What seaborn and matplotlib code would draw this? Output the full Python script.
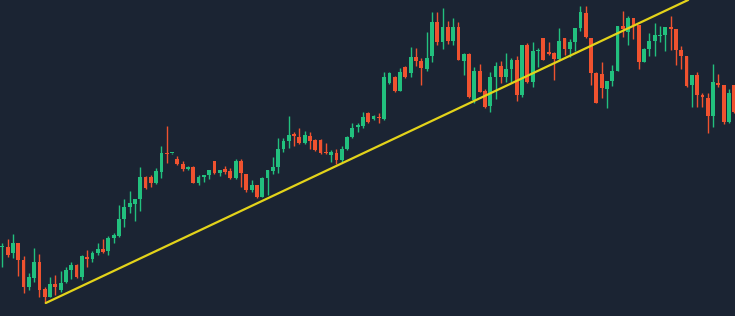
import matplotlib
matplotlib.use("Agg")
import matplotlib.pyplot as plt
import seaborn as sns
import numpy as np
import pandas as pd

# Candle values (price units)
opens = [69, 69, 63, 73, 56, 29, 38, 54, 27, 19, 32, 26, 34, 46, 51, 39, 59, 57, 63, 67,
         65, 78, 80, 97, 109, 112, 117, 139, 139, 133, 144, 163, 163, 157, 152, 147, 149, 133, 139, 141,
         155, 143, 147, 145, 138, 155, 142, 126, 131, 119, 138, 145, 149, 167, 175, 182, 179, 173, 180, 176,
         176, 164, 161, 163, 156, 167, 179, 189, 190, 203, 197, 199, 197, 233, 239, 225, 249, 243, 259, 255,
         247, 260, 294, 274, 289, 275, 289, 255, 262, 216, 245, 225, 210, 239, 250, 239, 247, 256, 221, 271,
         234, 265, 278, 264, 263, 257, 278, 267, 274, 288, 303, 278, 243, 242, 227, 235, 245, 290, 284, 298,
         291, 254, 267, 275, 280, 281, 289, 287, 266, 260, 231, 241, 221, 218, 200, 233, 231, 194, 231]
highs = [73, 77, 82, 73, 60, 43, 68, 62, 29, 39, 41, 45, 49, 54, 52, 61, 66, 65, 73, 77,
         80, 83, 111, 117, 125, 117, 149, 140, 141, 148, 170, 190, 163, 160, 155, 150, 150, 141, 141, 146,
         155, 146, 150, 148, 157, 157, 142, 136, 131, 139, 146, 159, 178, 178, 200, 184, 188, 185, 184, 177,
         177, 173, 166, 167, 170, 180, 193, 193, 204, 204, 201, 203, 244, 244, 240, 248, 250, 269, 268, 258,
         284, 304, 304, 308, 295, 298, 294, 263, 263, 249, 252, 227, 244, 254, 255, 263, 258, 260, 271, 273,
         274, 268, 278, 274, 264, 288, 278, 277, 288, 310, 310, 278, 244, 254, 235, 251, 290, 305, 300, 298,
         291, 268, 283, 293, 290, 289, 300, 287, 270, 260, 241, 244, 223, 223, 252, 242, 231, 227, 231]
lows = [49, 59, 58, 40, 23, 26, 34, 19, 13, 19, 21, 24, 33, 37, 38, 36, 49, 54, 61, 63,
        61, 73, 79, 89, 103, 95, 105, 127, 129, 132, 138, 153, 162, 151, 145, 146, 133, 131, 134, 137,
        142, 140, 142, 137, 137, 129, 124, 124, 118, 119, 121, 142, 143, 164, 168, 170, 172, 172, 167, 165,
        162, 162, 154, 152, 154, 166, 178, 184, 188, 193, 196, 193, 196, 232, 224, 225, 238, 239, 250, 231,
        245, 254, 271, 267, 272, 271, 256, 241, 218, 213, 224, 208, 204, 217, 233, 234, 234, 215, 219, 233,
        229, 249, 256, 261, 236, 256, 261, 259, 265, 285, 278, 231, 213, 218, 208, 230, 245, 279, 271, 277,
        247, 254, 260, 260, 274, 265, 266, 251, 247, 229, 209, 209, 209, 183, 189, 229, 192, 193, 203]
closes = [69, 61, 73, 56, 29, 39, 54, 26, 19, 32, 29, 33, 46, 51, 39, 60, 57, 63, 67, 64,
          78, 81, 97, 109, 113, 117, 139, 128, 133, 145, 163, 162, 163, 152, 147, 149, 133, 139, 141, 146,
          143, 146, 144, 138, 155, 143, 126, 131, 119, 138, 146, 149, 167, 175, 181, 180, 173, 181, 175, 166,
          163, 163, 164, 156, 167, 179, 188, 191, 199, 194, 200, 198, 239, 243, 225, 244, 239, 259, 255, 248,
          258, 294, 274, 289, 275, 289, 256, 262, 219, 245, 224, 209, 239, 250, 239, 247, 256, 221, 271, 234,
          265, 266, 256, 262, 257, 275, 267, 274, 288, 304, 279, 243, 213, 228, 235, 245, 290, 287, 298, 291,
          254, 267, 275, 281, 281, 289, 287, 266, 260, 230, 241, 221, 219, 200, 234, 231, 194, 223, 204]

# Trend line anchor points (candle index, price)
trend_x = [8.2, 129.3]
trend_y = [13, 316]

BG = "#1b2433"
UP = "#22c07e"
DOWN = "#f0522f"
LINE = "#e3d31a"

df = pd.DataFrame({"o": opens, "h": highs, "l": lows, "c": closes})
df["i"] = np.arange(len(df))
df["up"] = df["c"] >= df["o"]

sns.set_style("dark", {"axes.facecolor": BG, "figure.facecolor": BG})

fig = plt.figure(figsize=(7.35, 3.16), dpi=100)
ax = fig.add_axes([0, 0, 1, 1])
ax.set_facecolor(BG)

colors = np.where(df["up"], UP, DOWN)
ax.vlines(df["i"], df["l"], df["h"], colors=colors, linewidth=1.0, zorder=2)
body_bottom = np.minimum(df["o"], df["c"])
body_h = np.maximum(np.abs(df["c"] - df["o"]), 1.2)
ax.bar(df["i"], body_h, bottom=body_bottom, width=0.72, color=colors, linewidth=0, zorder=3)

tl = pd.DataFrame({"x": trend_x, "y": trend_y})
sns.lineplot(data=tl, x="x", y="y", ax=ax, color=LINE, linewidth=1.6, zorder=4)

ax.set_xlim(-0.434, 138.14)
ax.set_ylim(0, 316)
ax.set_xticks([])
ax.set_yticks([])
ax.set_xlabel("")
ax.set_ylabel("")
for s in ax.spines.values():
    s.set_visible(False)

fig.savefig("out.png", dpi=100, facecolor=BG)
